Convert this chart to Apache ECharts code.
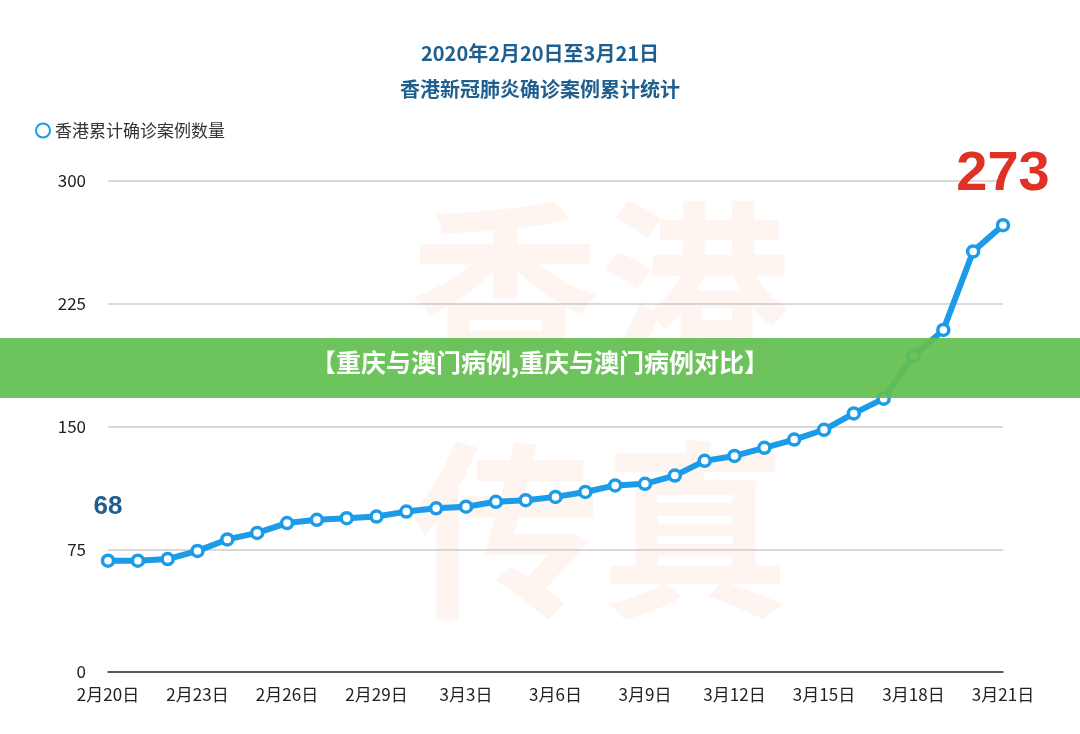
<!DOCTYPE html>
<html><head><meta charset="utf-8">
<script src="https://cdn.jsdelivr.net/npm/echarts@6/dist/echarts.min.js"></script>
<style>html,body{margin:0;background:#fff}#c{width:1080px;height:734px}</style></head>
<body><div id="c"></div>
<script>
const categories=['2月20日','2月21日','2月22日','2月23日','2月24日','2月25日','2月26日','2月27日','2月28日','2月29日','3月1日','3月2日','3月3日','3月4日','3月5日','3月6日','3月7日','3月8日','3月9日','3月10日','3月11日','3月12日','3月13日','3月14日','3月15日','3月16日','3月17日','3月18日','3月19日','3月20日','3月21日'];
const cases=[68,68,69,74,81,85,91,93,94,95,98,100,101,104,105,107,110,114,115,120,129,132,137,142,148,158,167,193,209,257,273];
const yTicks=[0,75,150,225,300];
const chart=echarts.init(document.getElementById('c'));
const F='"Noto Sans CJK SC",sans-serif';
chart.setOption({
 animation:false,
 title:{text:'2020年2月20日至3月21日\n香港新冠肺炎确诊案例累计统计',left:'center',top:30,textStyle:{fontFamily:F,fontSize:20,fontWeight:'bold',color:'#1f5f8f',lineHeight:36}},
 legend:{left:30,top:117,itemWidth:14,itemHeight:14,icon:'circle',textStyle:{fontFamily:F,fontSize:17,color:'#333'},data:['香港累计确诊案例数量']},
 grid:{left:108,right:77,top:181,bottom:62},
 xAxis:{type:'category',data:categories,boundaryGap:false,axisTick:{show:false},axisLine:{lineStyle:{color:'#333',width:1.5}},
   axisLabel:{interval:2,fontFamily:F,fontSize:17,color:'#222',margin:14}},
 yAxis:{type:'value',min:0,max:300,interval:75,axisLine:{show:false},axisTick:{show:false},
   axisLabel:{fontFamily:F,fontSize:17,color:'#222',margin:22,formatter:v=>yTicks.includes(v)?v:''},splitLine:{lineStyle:{color:'#ccc',width:1.5}}},
 graphic:[
  {type:'text',left:410,top:170,z:-1,style:{text:'香港\n传真',font:'bold 190px "Noto Sans CJK SC"',fill:'rgba(240,120,60,0.07)',lineHeight:240}},
  {type:'rect',shape:{x:0,y:338,width:1080,height:60},style:{fill:'rgba(98,190,80,0.93)'},z:100},
  {type:'text',left:'center',top:350,z:101,style:{text:'【重庆与澳门病例,重庆与澳门病例对比】',font:'bold 25px "Noto Sans CJK SC"',fill:'#fff'}}
 ],
 series:[{name:'香港累计确诊案例数量',type:'line',data:cases,symbol:'circle',symbolSize:11,
   lineStyle:{color:'#1b9be8',width:6},itemStyle:{color:'#fff',borderColor:'#1b9be8',borderWidth:3.5},
   markPoint:{symbol:'circle',symbolSize:1,itemStyle:{color:'rgba(0,0,0,0)'},data:[
     {coord:[0,68],value:68,label:{show:true,position:'top',distance:40,fontSize:26,fontWeight:'bold',color:'#1f5f8f',fontFamily:'Liberation Sans'}},
     {coord:[30,273],value:273,label:{show:true,position:'top',distance:22,offset:[0,0],fontSize:56,fontWeight:'bold',color:'#e03224',fontFamily:'Liberation Sans'}}
   ]}
 }]
});
</script></body></html>
